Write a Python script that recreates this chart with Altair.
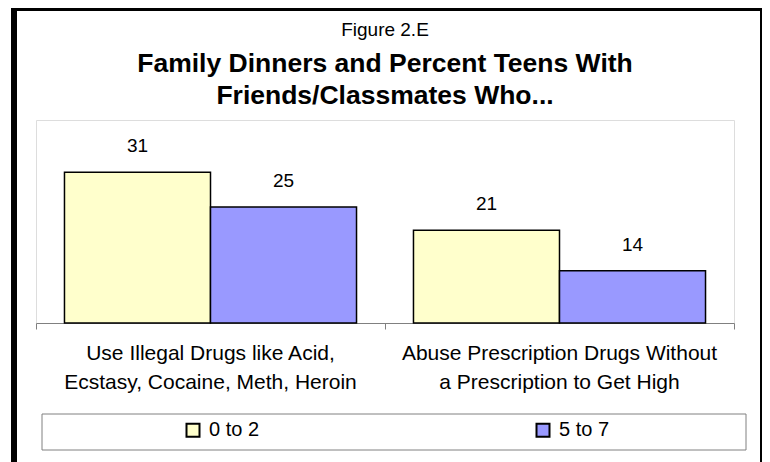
import altair as alt
import pandas as pd

# ---- data ----
categories = [
    "Use Illegal Drugs like Acid,|Ecstasy, Cocaine, Meth, Heroin",
    "Abuse Prescription Drugs Without|a Prescription to Get High",
]
groups = ["0 to 2", "5 to 7"]
values_0_2 = [31, 21]
values_5_7 = [25, 14]
colors = ["#FFFFCC", "#9999FF"]
axis_min = 5
axis_max = 40

rows = []
for i, c in enumerate(categories):
    rows.append({"category": c, "group": groups[0], "value": values_0_2[i], "base": axis_min})
    rows.append({"category": c, "group": groups[1], "value": values_5_7[i], "base": axis_min})
df = pd.DataFrame(rows)

FONT = "Liberation Sans"
W, H = 698, 203

x = alt.X(
    "category:N",
    sort=categories,
    scale=alt.Scale(paddingInner=0, paddingOuter=0),
    axis=alt.Axis(
        title=None,
        labelAngle=0,
        labelExpr="split(datum.label, '|')",
        labelFontSize=21,
        labelFont=FONT,
        labelColor="black",
        labelLineHeight=29,
        labelPadding=13,
        labelLimit=400,
        domainColor="#808080",
        tickColor="#808080",
        tickSize=6,
        bandPosition=1,
        tickExtra=True,
    ),
)
xo = alt.XOffset(
    "group:N", sort=groups, scale=alt.Scale(paddingOuter=0.195, paddingInner=0)
)
y = alt.Y("value:Q", scale=alt.Scale(domain=[axis_min, axis_max]), axis=None)

color = alt.Color(
    "group:N",
    sort=groups,
    scale=alt.Scale(domain=groups, range=colors),
    legend=alt.Legend(
        orient="none",
        legendX=147,
        legendY=300,
        direction="horizontal",
        title=None,
        symbolType="square",
        symbolSize=169,
        symbolStrokeColor="black",
        symbolStrokeWidth=2,
        symbolOpacity=1,
        labelFontSize=20,
        labelFont=FONT,
        labelColor="black",
        labelOffset=6,
        columnPadding=272,
        padding=0,
    ),
)

base = alt.Chart(df)

bars = base.mark_bar(stroke="black", strokeWidth=1.5).encode(
    x=x, xOffset=xo, y=y, y2=alt.Y2("base:Q"), color=color
)

labels = base.mark_text(
    dy=-20, baseline="alphabetic", fontSize=19, font=FONT, color="black"
).encode(x=x, xOffset=xo, y=y, text=alt.Text("value:Q"))

frame_df = pd.DataFrame({"k": [0]})
outer = alt.Chart(frame_df).mark_rect(
    fill=None, stroke="black", strokeWidth=6
).encode(
    x=alt.value(-22), x2=alt.value(727), y=alt.value(-112), y2=alt.value(360)
)
legend_box = alt.Chart(frame_df).mark_rect(
    fill=None, stroke="#808080", strokeWidth=1
).encode(
    x=alt.value(6), x2=alt.value(710), y=alt.value(294), y2=alt.value(330)
)

chart = (
    alt.layer(bars, labels, outer, legend_box)
    .properties(
        width=W,
        height=H,
        autosize=alt.AutoSizeParams(type="none"),
        padding={"left": 28, "top": 112, "right": 28, "bottom": 139},
        title=alt.TitleParams(
            text="Figure 2.E",
            subtitle=["Family Dinners and Percent Teens With", "Friends/Classmates Who..."],
            font=FONT,
            fontSize=19,
            fontWeight="normal",
            color="black",
            subtitleFont=FONT,
            subtitleFontSize=26.5,
            subtitleFontWeight="bold",
            subtitleColor="black",
            subtitleLineHeight=32,
            subtitlePadding=11,
            anchor="middle",
            frame="group",
            offset=-104,
        ),
    )
    .configure_view(stroke="#808080", strokeWidth=1)
    .configure(background="white")
)

chart.save("out.html", embed_options={"renderer": "svg", "actions": False})
